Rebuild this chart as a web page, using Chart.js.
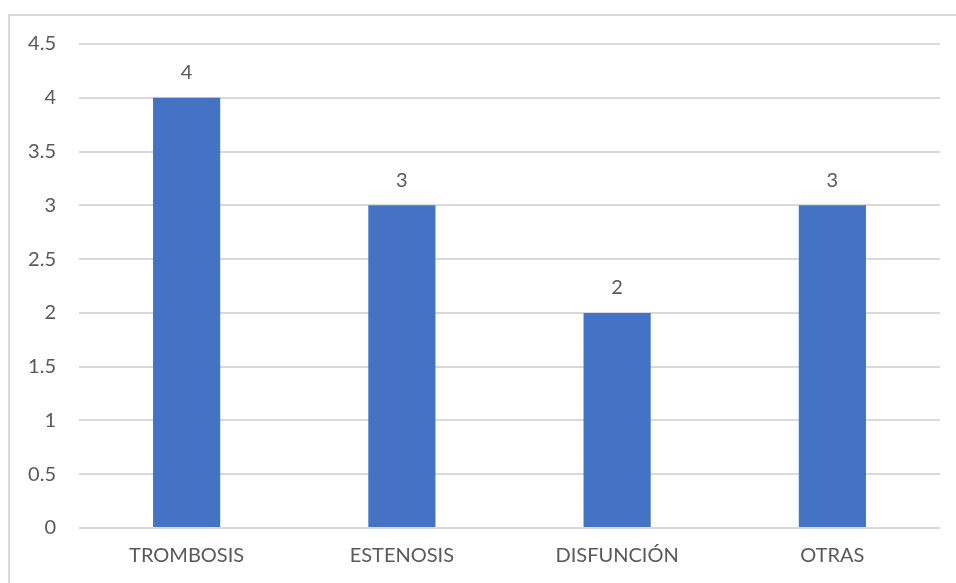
<!DOCTYPE html>
<html>
<head>
<meta charset="utf-8">
<script src="https://cdn.jsdelivr.net/npm/chart.js@4/dist/chart.umd.min.js"></script>
<style>
  html, body { margin: 0; padding: 0; background: #fff; overflow: hidden; }
  #frame { position: absolute; left: 8px; top: 14px; width: 1000px; height: 1000px; border: 2px solid #d9d9d9; }
  #wrap { position: absolute; left: 0; top: 0; width: 956px; height: 583px; }
</style>
</head>
<body>
<div id="frame"></div>
<div id="wrap"><canvas id="myChart" width="956" height="583"></canvas></div>
<script>
const categories = ['TROMBOSIS', 'ESTENOSIS', 'DISFUNCIÓN', 'OTRAS'];
const values = [4, 3, 2, 3];
const yTickLabels = ['0', '0.5', '1', '1.5', '2', '2.5', '3', '3.5', '4', '4.5'];

const textColor = '#595959';
const fontFamily = "Lato, 'Noto Sans', sans-serif";

// value labels above each bar
const barLabels = {
    id: 'barLabels',
    afterDatasetsDraw(chart) {
        const ctx = chart.ctx;
        const meta = chart.getDatasetMeta(0);
        ctx.save();
        ctx.fillStyle = textColor;
        ctx.font = '20px ' + fontFamily;
        ctx.textAlign = 'center';
        ctx.textBaseline = 'bottom';
        meta.data.forEach((bar, i) => {
            ctx.fillText(String(values[i]), bar.x, bar.y - 15);
        });
        ctx.restore();
    }
};

new Chart(document.getElementById('myChart').getContext('2d'), {
    type: 'bar',
    data: {
        labels: categories,
        datasets: [{
            label: 'value',
            data: values,
            backgroundColor: '#4472C4',
            borderWidth: 0,
            categoryPercentage: 1,
            barPercentage: 0.312
        }]
    },
    options: {
        responsive: false,
        animation: false,
        devicePixelRatio: 1,
        layout: { padding: { left: 0, top: 44, right: 16, bottom: 0 } },
        plugins: { legend: { display: false }, tooltip: { enabled: false } },
        scales: {
            x: {
                grid: { display: false, drawTicks: false },
                border: { display: false },
                ticks: { color: textColor, padding: 16, maxRotation: 0, autoSkip: false, font: { family: fontFamily, size: 20 } },
                afterFit(scale) { scale.height = 55; }
            },
            y: {
                min: 0,
                max: 4.5,
                grid: { color: '#d9d9d9', lineWidth: 2, drawTicks: false },
                border: { display: false },
                ticks: {
                    stepSize: 0.5,
                    color: textColor,
                    padding: 23,
                    font: { family: fontFamily, size: 20 },
                    callback: (v, i) => yTickLabels[i]
                },
                afterFit(scale) { scale.width = 79; }
            }
        }
    },
    plugins: [barLabels]
});
</script>
</body>
</html>
